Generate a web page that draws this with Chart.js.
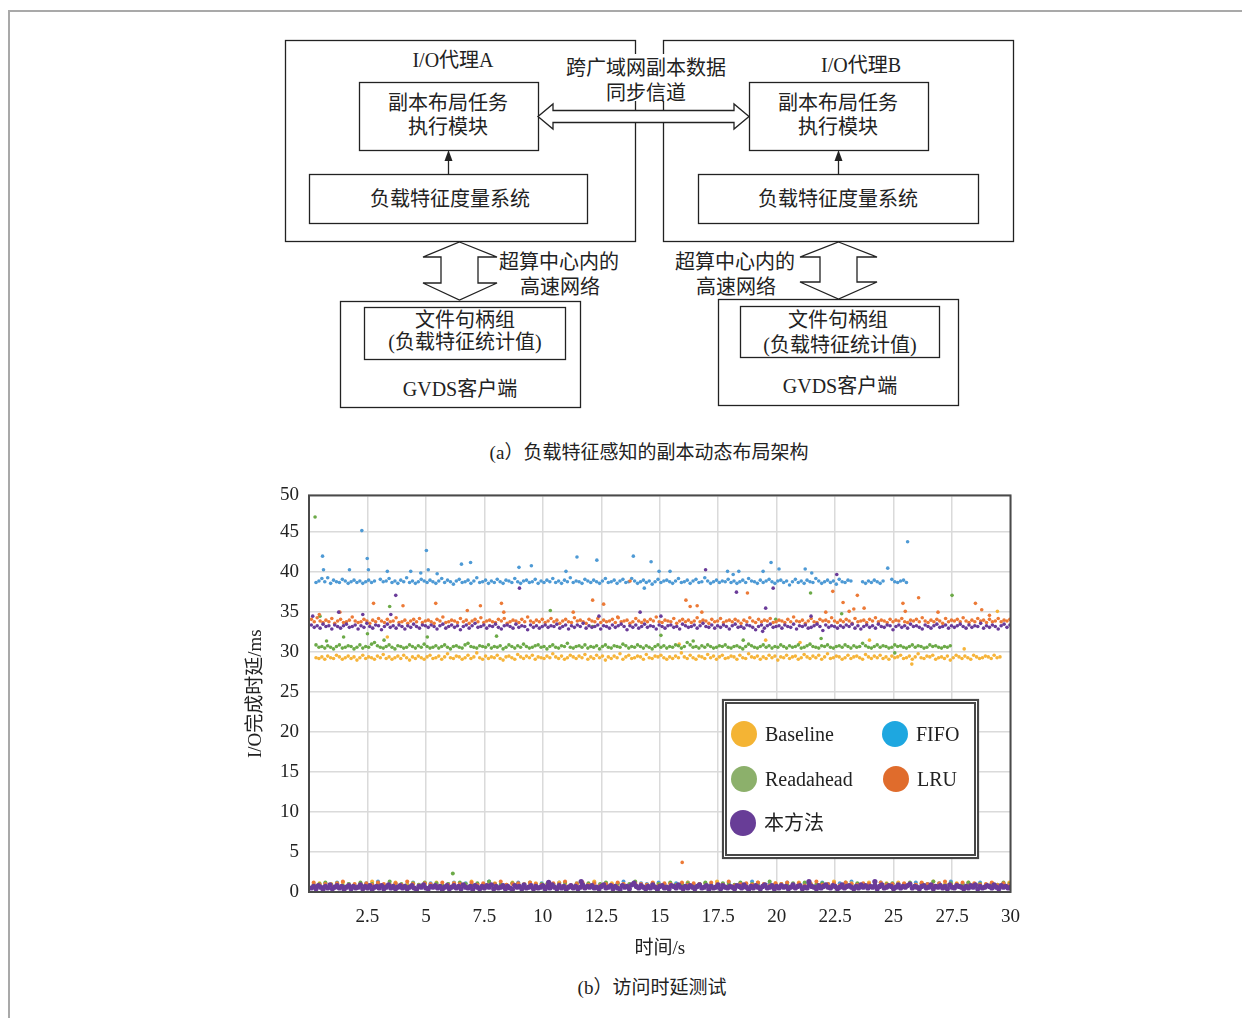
<!DOCTYPE html>
<html>
<head>
<meta charset="utf-8">
<script src="https://cdn.jsdelivr.net/npm/chart.js@4.4.1/dist/chart.umd.min.js"></script>
<style>
  html, body { margin: 0; padding: 0; background: #fff; }
  body { width: 1242px; height: 1018px; position: relative; overflow: hidden;
         font-family: "Liberation Serif", "Noto Sans CJK SC", serif; color: #222; }
  .page-edge { position: absolute; left: 8px; top: 10px; width: 1234px; height: 1008px;
               border-top: 2px solid #a9a9a9; border-left: 2px solid #a9a9a9; box-sizing: border-box; }
  #diagram { position: absolute; left: 0; top: 0; }
  #chartWrap { position: absolute; left: 240px; top: 474px; width: 794px; height: 486px; }
  .cap { position: absolute; font-size: 19px; white-space: nowrap; transform: translate(-50%, -50%); }
  #legend { position: absolute; left: 722px; top: 699px; width: 257px; height: 160px; box-sizing: border-box;
            border: 5px double #474747; background: #fff; box-shadow: 0 0 1px #888; }
  .li { position: absolute; display: flex; align-items: center; font-size: 20px; line-height: 26px; white-space: nowrap; }
  .li .dot { width: 26px; height: 26px; border-radius: 50%; margin-right: 8px; flex: none; }
</style>
</head>
<body>
<div class="page-edge"></div>

<svg id="diagram" width="1242" height="470" xmlns="http://www.w3.org/2000/svg"
     font-family="Liberation Serif, Noto Sans CJK SC, serif" font-size="20" fill="#222">
  <g fill="none" stroke="#222" stroke-width="1.3">
    <rect x="285.5" y="40.5" width="350" height="201"/>
    <rect x="663.5" y="40.5" width="350" height="201"/>
    <rect x="359.5" y="82.5" width="179" height="68"/>
    <rect x="749.5" y="82.5" width="179" height="68"/>
    <rect x="309.5" y="174.5" width="278" height="49"/>
    <rect x="698.5" y="174.5" width="280" height="49"/>
    <rect x="340.5" y="301.5" width="240" height="106"/>
    <rect x="364.5" y="307.5" width="201" height="52"/>
    <rect x="718.5" y="299.5" width="240" height="106"/>
    <rect x="740.5" y="306.5" width="199" height="51"/>
    <line x1="448.5" y1="174" x2="448.5" y2="159"/>
    <line x1="838.5" y1="174" x2="838.5" y2="159"/>
  </g>
  <polygon points="448.5,150 444.5,161 452.5,161" fill="#222"/>
  <polygon points="838.5,150 834.5,161 842.5,161" fill="#222"/>

  <!-- wide-area replica sync channel -->
  <rect x="563" y="54" width="166" height="47" fill="#fff"/>
  <polygon points="538,116.5 553,104 553,110.5 734,110.5 734,104 749,116.5 734,129 734,122.5 553,122.5 553,129"
           fill="#fff" stroke="#222" stroke-width="1.3"/>

  <!-- in-center high speed network arrows -->
  <polygon points="459.5,242 497,257 478,257 478,283 497,283 459.5,300 423,283 441,283 441,257 423,257"
           fill="#fff" stroke="#222" stroke-width="1.3"/>
  <polygon points="838.5,242 877,257 857,257 857,282 877,282 838.5,299 800,282 820,282 820,257 800,257"
           fill="#fff" stroke="#222" stroke-width="1.3"/>

  <g text-anchor="middle" dominant-baseline="central">
    <text x="453" y="60">I/O代理A</text>
    <text x="861" y="65">I/O代理B</text>
    <text x="646" y="68">跨广域网副本数据</text>
    <text x="646" y="93">同步信道</text>
    <text x="448" y="103">副本布局任务</text>
    <text x="448" y="127">执行模块</text>
    <text x="838" y="103">副本布局任务</text>
    <text x="838" y="127">执行模块</text>
    <text x="450" y="199">负载特征度量系统</text>
    <text x="838" y="199">负载特征度量系统</text>
    <text x="559" y="262">超算中心内的</text>
    <text x="560" y="287">高速网络</text>
    <text x="735" y="262">超算中心内的</text>
    <text x="736" y="287">高速网络</text>
    <text x="465" y="320">文件句柄组</text>
    <text x="465" y="342">(负载特征统计值)</text>
    <text x="460" y="389">GVDS客户端</text>
    <text x="838" y="320">文件句柄组</text>
    <text x="840" y="345">(负载特征统计值)</text>
    <text x="840" y="386">GVDS客户端</text>
  </g>
</svg>
<div class="cap" style="left:649px; top:450px;">(a）负载特征感知的副本动态布局架构</div>

<div id="chartWrap"><canvas id="c" width="794" height="486"></canvas></div>
<div id="legend"></div>
<div class="cap" style="left:652px; top:985px;">(b）访问时延测试</div>

<script>
// ---- series names and colours ----
const seriesNames   = ['Baseline', 'FIFO', 'Readahead', 'LRU', '本方法'];
const pointColors   = ['#F6B43A', '#4E9AD5', '#6CAA48', '#EC7A37', '#6A3B99'];
const legendColors  = ['#F4B434', '#1EA7E0', '#8CB06B', '#E06C2C', '#683D97'];

// ---- axis ticks ----
const xTickStep = 2.5;
const yTickValues = [0, 5, 10, 15, 20, 25, 30, 35, 40, 45, 49.6];
const yTickLabels = ['0', '5', '10', '15', '20', '25', '30', '35', '40', '45', '50'];

// ---- sampling of the steady-state latency traces (s) ----
const bandStep = 0.125;
const lowStep = 0.25;
const oursLowStep = 0.1;

// Baseline, steady latency (ms), from t = 0.3 s
const baselineBandStart = 0.3;
const baselineBand = [
  29.3,29.2,29.4,29.1,29.5,29.3,29.2,29.6,29.4,29.1,29.3,29.5,29.2,29.4,29.0,29.3,29.6,29.2,29.4,29.3,
  29.1,29.5,29.3,29.7,29.2,29.4,29.1,29.3,29.5,29.2,29.6,29.3,29.0,29.4,29.2,29.5,29.3,29.1,29.4,29.6,
  29.2,29.3,29.5,29.1,29.4,29.8,29.3,29.2,29.5,29.4,29.1,29.3,29.6,29.2,29.4,29.9,29.3,29.1,29.5,29.2,
  29.4,29.3,29.6,29.2,29.0,29.4,29.5,29.3,29.1,29.7,29.4,29.2,29.5,29.3,29.6,29.1,29.4,29.3,29.2,29.5,
  29.3,29.8,29.4,29.2,29.5,29.1,29.3,29.6,29.4,29.2,29.5,29.3,29.7,29.1,29.4,29.2,29.6,29.3,29.5,29.0,
  29.4,29.2,29.5,29.3,29.8,29.1,29.4,29.6,29.2,29.3,29.5,29.4,29.1,29.7,29.3,29.2,29.5,29.4,29.6,29.3,
  29.1,29.4,29.2,29.5,29.3,29.9,29.4,29.2,29.6,29.3,29.1,29.5,29.4,29.2,29.7,29.3,29.5,29.1,29.4,29.6,
  29.2,29.3,29.5,29.4,29.1,29.6,29.3,29.2,29.8,29.4,29.3,29.5,29.1,29.4,29.2,29.6,29.3,29.5,29.0,29.4,
  29.3,29.6,29.2,29.4,29.5,29.1,29.3,29.7,29.4,29.2,29.5,29.3,29.6,29.1,29.4,29.8,29.2,29.3,29.5,29.4,
  29.1,29.3,29.6,29.2,29.4,29.5,29.3,29.1,29.7,29.4,29.2,29.5,29.3,29.6,29.2,29.4,29.1,29.5,29.3,29.4,
  29.6,29.2,29.3,29.5,29.1,29.4,29.8,29.3,29.2,29.5,29.4,29.6,29.1,29.3,29.4,29.2,29.5,29.0,29.3,29.6,
  29.4,29.2,29.5,29.3,29.1,29.6,29.4,29.2,29.3,29.5,29.4,29.2,29.6,29.3,29.4
];
const baselineSpikes = [[3.35,31.9],[15.83,31.0],[19.53,31.5],[21.0,31.2],[23.97,31.5],[25.78,28.5],[28.02,30.4],[29.44,35.1]];

// FIFO, steady latency (ms), from t = 0.3 s (null = no request logged)
const fifoBandStart = 0.3;
const fifoBand = [
  38.7,38.9,39.2,38.8,39.3,38.6,39.0,38.8,38.7,39.1,38.9,38.6,38.8,39.0,38.7,38.9,38.6,38.8,39.0,38.7,
  38.9,null,39.1,38.8,38.9,39.2,38.7,38.9,38.6,39.0,38.8,39.3,38.7,38.9,38.6,38.8,39.1,38.9,38.7,39.0,
  38.8,38.6,38.9,39.2,38.7,39.0,38.8,38.5,38.9,39.1,38.7,38.8,39.0,38.6,38.9,39.3,38.7,38.8,39.0,38.6,
  38.9,38.7,39.1,38.8,38.6,39.0,38.9,38.7,39.2,38.8,38.6,38.9,39.0,38.7,38.8,39.1,38.6,38.9,38.7,39.0,
  38.8,39.2,38.7,38.9,38.6,39.0,38.8,39.3,38.7,38.9,38.8,38.6,39.1,38.9,38.7,39.0,38.8,38.6,38.9,39.2,
  38.7,38.8,39.0,38.6,38.9,39.1,38.7,38.8,39.2,38.9,38.6,38.8,39.0,38.7,38.9,38.5,38.8,39.1,38.7,38.9,
  39.0,38.8,38.6,38.9,39.2,38.7,38.8,39.0,38.6,38.9,39.1,38.7,38.8,39.3,38.9,38.6,38.8,39.0,38.7,38.9,
  38.8,39.1,38.7,38.9,38.6,38.8,39.0,38.7,39.2,38.9,38.8,38.6,39.0,38.7,38.9,39.1,38.8,38.6,38.9,39.0,
  38.7,38.9,38.4,38.8,39.1,38.7,38.9,38.6,39.0,38.8,38.7,39.2,38.9,38.6,38.8,39.0,38.7,38.9,38.5,39.1,
  38.8,38.7,39.0,38.9,null,null,null,38.8,38.6,38.9,38.7,39.0,38.8,38.6,38.9,null,null,39.1,38.8,38.7,
  38.9,39.0,38.7
];
const fifoSpikes = [[0.58,42.0],[0.62,40.3],[1.73,40.3],[2.26,45.2],[2.49,41.7],[2.54,40.3],[3.35,40.1],[4.35,40.1],
  [4.78,39.9],[5.02,42.7],[5.1,40.3],[5.48,39.8],[6.52,41.0],[6.91,41.2],[8.98,40.6],[9.51,40.8],[10.99,40.1],
  [11.46,41.9],[12.31,41.5],[13.87,42.0],[14.34,38.0],[14.63,41.3],[14.97,40.1],[15.44,40.1],[17.9,40.1],
  [18.14,39.7],[18.38,40.1],[19.42,40.1],[19.76,41.2],[20.1,40.4],[21.22,40.4],[21.5,39.9],[24.75,40.5],[25.6,43.8]];

// Readahead, steady latency (ms), from t = 0.3 s
const readaheadBandStart = 0.3;
const readaheadBand = [
  30.9,30.6,30.7,30.5,30.8,30.6,30.4,30.7,30.9,30.5,30.6,30.8,30.7,30.4,30.6,30.9,30.5,30.7,30.6,31.0,
  31.2,30.8,30.6,30.5,30.7,30.9,30.6,30.4,30.8,30.7,30.5,30.6,30.9,30.7,30.5,30.8,30.6,31.0,30.7,30.5,
  30.6,30.8,30.5,30.7,30.9,30.6,30.4,30.7,30.8,30.6,30.5,30.9,31.1,30.7,30.6,30.5,30.8,30.7,30.6,30.9,
  30.5,30.7,30.6,30.8,30.4,30.6,30.9,30.7,30.5,30.8,30.6,31.0,30.7,30.5,30.6,30.8,30.9,30.6,30.7,30.4,
  30.7,30.9,30.6,30.5,30.8,30.7,31.1,30.6,30.5,30.7,30.8,30.6,30.9,30.5,30.7,30.6,30.8,30.4,30.7,30.9,
  30.6,30.5,30.8,30.7,30.6,31.0,30.8,30.5,30.7,30.6,30.9,30.7,30.5,30.8,30.6,30.4,30.7,30.9,30.6,30.8,
  30.5,30.7,30.6,30.9,30.8,30.5,30.7,31.2,30.9,30.6,30.7,30.5,30.8,30.6,30.9,30.7,30.5,30.6,30.8,30.7,
  30.9,30.6,30.5,30.7,30.8,30.6,30.4,30.7,31.0,30.8,30.6,30.5,30.7,30.9,30.6,30.8,30.5,30.7,30.6,30.9,
  30.7,30.5,30.8,30.6,30.7,30.9,30.5,30.6,30.8,31.0,30.7,30.6,30.5,30.8,30.7,30.9,30.6,30.5,30.7,30.8,
  30.6,30.9,30.7,30.5,30.8,30.6,30.7,31.1,30.8,30.6,30.5,30.7,30.9,30.6,30.8,30.7,30.5,30.6,30.9,30.7,
  30.8,30.6,30.5,30.7,30.9,30.6,30.8,30.7,30.5,30.6,30.9,30.7,30.8,30.6,30.5,30.7,30.6,30.8
];
const readaheadSpikes = [[0.26,46.9],[0.47,34.5],[0.75,31.4],[1.48,31.9],[2.5,32.3],[3.21,31.5],[3.45,35.7],[5.06,31.9],
  [6.15,2.3],[8.02,32.0],[10.32,35.2],[12.13,33.2],[15.05,32.1],[16.43,31.4],[18.57,31.5],[19.96,34.1],[21.45,37.4],
  [21.9,31.7],[22.78,34.8],[25.05,29.9],[27.5,37.1]];

// LRU, steady latency (ms), from t = 0.1 s
const lruBandStart = 0.1;
const lruBand = [
  34.1,33.8,34.3,33.9,33.7,34.0,33.8,34.2,33.6,33.9,34.1,33.7,33.8,34.0,34.4,33.9,33.7,33.8,34.1,33.9,
  33.6,34.0,33.8,34.2,33.9,33.7,34.1,33.8,33.9,34.3,33.7,33.8,34.0,33.6,33.9,34.1,33.8,34.2,33.7,33.9,
  34.0,33.8,33.6,34.1,33.9,34.4,33.7,33.8,34.0,33.9,33.7,34.2,33.8,34.0,33.6,33.9,34.1,33.8,34.3,33.7,
  33.9,34.0,33.8,33.7,34.1,33.9,34.2,33.6,33.8,34.0,33.9,33.7,34.1,33.8,34.4,33.9,33.7,34.0,33.8,34.1,
  33.7,33.9,34.2,33.8,34.0,33.6,33.9,34.1,33.8,33.7,34.3,33.9,34.0,33.8,33.6,34.1,33.9,33.8,34.2,33.7,
  34.0,33.8,33.9,34.1,33.7,34.3,33.8,33.9,34.0,33.6,33.8,34.2,33.9,33.7,34.0,33.8,34.1,33.9,34.4,33.8,
  33.7,34.0,33.9,33.8,34.2,33.6,33.9,34.1,33.8,34.0,33.7,33.9,34.3,33.8,34.0,33.9,33.6,34.1,33.8,33.9,
  34.2,33.7,33.9,34.0,33.8,34.1,33.9,33.6,34.0,33.8,34.3,33.9,33.7,34.1,33.8,34.0,33.9,34.2,33.7,33.8,
  34.0,33.9,33.7,34.1,33.8,34.4,33.9,33.8,34.0,33.6,33.9,34.2,33.8,33.7,34.1,33.9,34.0,33.8,34.3,33.9,
  33.7,34.0,33.8,34.1,33.9,33.6,34.2,33.8,33.9,34.0,33.7,34.1,33.9,34.3,33.8,34.0,33.9,33.7,34.1,33.8,
  34.0,33.9,34.2,33.8,33.7,34.0,33.9,34.1,33.8,34.3,33.9,33.7,34.0,33.8,34.1,33.9,33.6,34.2,33.8,34.0,
  33.9,34.1,33.8,34.3,33.9,33.7,34.0,33.8,34.2,33.9,34.0,33.7,34.1,33.8,33.9,34.2,33.8,34.0,33.9,34.1
];
const lruSpikes = [[0.44,34.7],[1.32,35.0],[2.76,36.1],[4.02,35.8],[5.42,36.1],[6.77,35.2],[7.33,35.8],[8.23,36.1],
  [8.33,35.0],[11.3,35.0],[12.13,36.5],[12.6,36.0],[13.2,34.4],[13.73,38.9],[15.96,3.7],[16.12,36.5],[16.3,35.7],
  [16.6,35.8],[16.8,35.0],[18.75,37.4],[22.1,35.0],[22.4,37.6],[22.84,36.2],[23.1,35.1],[23.3,35.4],[23.45,37.1],
  [23.74,35.5],[25.4,36.1],[25.5,35.1],[26.07,36.8],[26.9,35.0],[28.5,36.1],[28.77,35.3],[29.1,34.6]];

// Proposed method, steady latency (ms), from t = 0.1 s
const oursBandStart = 0.1;
const oursBand = [
  33.4,33.1,33.3,33.0,33.5,33.2,33.3,32.9,33.4,33.2,33.0,33.3,33.5,33.1,33.2,33.4,32.9,33.3,33.1,33.6,
  33.2,33.0,33.4,33.3,32.8,33.2,33.5,33.1,33.3,33.0,33.4,33.2,32.9,33.3,33.1,33.5,33.2,33.0,33.4,33.3,
  33.1,33.4,33.2,32.9,33.3,33.5,33.0,33.2,33.4,33.1,33.3,32.8,33.2,33.4,33.0,33.3,33.6,33.1,33.2,33.4,
  33.0,33.3,33.2,33.5,33.1,32.9,33.3,33.4,33.2,33.0,33.5,33.1,33.3,33.2,32.8,33.4,33.1,33.3,33.0,33.2,
  33.4,33.1,33.3,33.2,33.5,33.0,33.2,33.4,32.9,33.3,33.1,33.4,33.2,33.6,33.0,33.3,33.1,33.2,33.4,32.9,
  33.3,33.2,33.0,33.4,33.1,33.3,33.5,33.2,32.8,33.3,33.1,33.4,33.0,33.2,33.5,33.1,33.3,33.2,32.9,33.4,
  33.2,33.0,33.3,33.4,33.1,33.2,32.9,33.5,33.3,33.1,33.2,33.4,33.0,33.3,33.6,33.2,33.1,33.4,33.0,33.3,
  33.1,33.4,33.2,32.9,33.3,33.5,33.1,33.2,33.0,33.4,33.3,33.1,32.8,33.2,33.4,33.0,33.3,33.5,33.1,33.2,
  33.3,33.0,33.4,33.2,33.1,33.5,32.9,33.3,33.2,33.4,33.0,33.1,33.3,33.5,33.2,32.7,33.4,33.1,33.3,33.2,
  33.0,33.3,33.1,33.4,33.2,33.5,33.0,33.3,32.9,33.2,33.4,33.1,33.3,33.0,33.5,33.2,33.1,33.4,33.3,32.8,
  33.2,33.4,33.1,33.3,33.0,33.5,33.2,33.3,33.1,32.9,33.4,33.2,33.0,33.3,33.5,33.1,33.2,33.4,33.0,33.3,
  33.1,33.3,33.5,33.2,33.0,33.4,33.1,33.3,33.2,33.6,33.0,33.3,33.1,33.4,33.2,32.9,33.3,33.5,33.1,33.4
];
const oursSpikes = [[0.16,34.5],[1.27,35.0],[2.3,34.7],[3.5,34.7],[3.71,37.1],[9.0,38.0],[10.25,1.2],[11.64,1.3],
  [12.4,34.5],[14.16,35.0],[15.05,34.5],[16.96,40.3],[18.28,37.5],[19.4,32.6],[19.53,35.5],[19.85,38.0],[21.38,1.3],
  [21.47,34.5],[22.57,39.7],[24.2,1.3]];

// Low-latency (cached) requests, ms
const lowStart = 0.2;
const baselineLow = [
  0.9,1.1,0.7,1.0,0.8,1.2,0.9,0.6,1.1,0.8,1.3,0.9,0.7,1.0,1.2,0.8,0.9,1.1,0.7,1.0,
  0.8,1.2,0.9,0.7,1.1,1.0,0.8,1.3,0.9,0.6,1.0,1.1,0.8,0.9,1.2,0.7,1.0,0.9,1.1,0.8,
  1.0,0.7,1.2,0.9,0.8,1.1,0.6,1.0,1.3,0.8,0.9,1.1,0.7,1.0,0.8,1.2,0.9,0.7,1.1,1.0,
  0.9,1.1,0.8,1.0,1.2,0.7,0.9,1.1,0.8,1.3,1.0,0.9,0.7,1.1,0.8,1.0,1.2,0.9,0.8,1.1,
  0.7,1.0,0.9,1.2,0.8,1.1,1.0,0.7,0.9,1.3,0.8,1.0,1.1,0.9,0.7,1.2,1.0,0.8,1.1,0.9,
  1.2,0.8,1.0,0.9,1.1,0.7,1.3,0.9,1.0,0.8,1.1,0.9,1.2,0.8,1.0,0.7,1.1,0.9,1.0,1.2
];
const fifoLow = [
  1.0,0.8,1.1,0.9,1.2,0.7,1.0,0.9,0.8,1.1,1.0,1.3,0.8,0.9,1.1,0.7,1.0,1.2,0.9,0.8,
  1.1,0.9,0.7,1.0,1.2,0.8,1.1,0.9,1.0,0.7,1.3,0.9,1.0,0.8,1.1,1.2,0.9,0.7,1.0,1.1,
  0.8,1.0,1.2,0.9,0.7,1.1,1.0,0.8,1.2,0.9,1.1,0.7,1.0,1.3,0.9,0.8,1.1,1.0,0.9,1.2,
  1.0,0.7,1.1,0.9,1.2,0.8,1.0,1.1,0.9,0.7,1.0,1.2,0.8,1.1,0.9,1.3,1.0,0.8,1.1,0.9,
  0.9,1.2,0.8,1.0,1.1,0.9,0.7,1.2,1.0,0.8,1.1,0.9,1.3,1.0,0.8,1.1,0.9,1.2,0.7,1.0,
  1.1,0.8,1.0,1.2,0.9,1.0,0.8,1.1,0.9,1.3,0.7,1.0,1.1,0.9,1.2,0.8,1.0,0.9,1.1,0.8
];
const readaheadLow = [
  0.8,1.0,1.2,0.9,1.1,0.8,1.0,0.7,1.2,0.9,1.0,1.1,0.8,1.3,0.9,1.0,0.7,1.1,0.9,1.2,
  0.9,1.1,0.8,1.0,0.7,1.2,1.0,0.9,1.1,0.8,1.3,1.0,0.9,0.7,1.1,1.0,0.8,1.2,0.9,1.0,
  1.1,0.9,1.0,1.2,0.8,1.0,0.9,1.1,0.7,1.0,1.2,0.8,1.1,0.9,1.0,1.3,0.8,0.9,1.1,1.0,
  0.8,1.2,0.9,1.0,1.1,0.7,1.0,1.2,0.9,0.8,1.1,1.0,0.9,1.2,0.7,1.0,1.1,0.9,1.3,0.8,
  1.0,0.9,1.1,0.8,1.2,1.0,0.9,1.1,0.8,1.0,0.7,1.2,0.9,1.1,1.0,0.8,1.2,0.9,1.0,1.1,
  0.9,1.0,1.2,0.8,1.1,0.9,1.3,1.0,0.8,1.1,0.9,1.0,1.2,0.7,1.0,0.9,1.1,0.8,1.2,1.0
];
const lruLow = [
  1.2,0.9,1.0,0.8,1.1,1.3,0.9,1.0,0.7,1.1,0.9,1.2,1.0,0.8,1.1,0.9,1.3,1.0,0.8,1.1,
  1.0,0.8,1.2,0.9,1.1,1.0,0.7,1.2,0.9,1.1,0.8,1.0,1.3,0.9,1.0,1.1,0.8,1.2,1.0,0.9,
  0.9,1.1,1.0,1.3,0.8,1.0,1.2,0.9,1.1,0.8,1.0,0.9,1.2,1.0,0.7,1.1,1.0,0.9,1.2,0.8,
  1.1,1.0,0.8,1.2,0.9,1.1,1.0,0.7,1.2,1.0,0.9,1.3,0.8,1.0,1.1,0.9,1.2,1.0,0.8,1.1,
  1.0,1.2,0.9,1.1,0.8,1.0,1.3,0.9,1.0,1.1,0.8,1.2,1.0,0.9,1.1,1.0,0.7,1.2,0.9,1.0,
  0.8,1.1,1.0,0.9,1.2,1.0,0.8,1.1,1.3,0.9,1.0,1.2,0.8,1.1,0.9,1.0,1.2,0.8,1.1,0.9
];
const oursLowStart = 0.1;
const oursLow = [
  0.5,0.7,0.4,0.8,0.6,0.3,0.7,0.5,0.9,0.4,0.6,0.8,0.5,0.7,0.3,0.6,0.8,0.4,0.7,0.5,
  0.6,0.9,0.4,0.7,0.5,0.8,0.3,0.6,0.7,0.5,0.8,0.4,0.6,0.9,0.5,0.7,0.4,0.6,0.8,0.5,
  0.7,0.4,0.6,0.8,0.5,0.3,0.7,0.6,0.9,0.5,0.4,0.7,0.6,0.8,0.5,0.7,0.3,0.6,0.8,0.4,
  0.6,0.8,0.5,0.7,0.4,0.9,0.6,0.5,0.7,0.3,0.8,0.6,0.4,0.7,0.5,0.8,0.6,0.9,0.4,0.7,
  0.5,0.6,0.8,0.4,0.7,0.5,0.3,0.8,0.6,0.7,0.4,0.9,0.5,0.6,0.8,0.4,0.7,0.5,0.6,0.8,
  0.4,0.7,0.5,0.9,0.6,0.4,0.8,0.5,0.7,0.3,0.6,0.8,0.5,0.7,0.4,0.6,0.9,0.5,0.7,0.6,
  0.8,0.5,0.6,0.4,0.7,0.9,0.5,0.6,0.8,0.4,0.7,0.5,0.3,0.8,0.6,0.7,0.4,0.9,1.1,0.7,
  0.5,0.8,0.6,0.4,0.7,0.5,0.9,0.6,0.3,0.7,0.8,0.5,0.6,0.4,0.8,0.7,0.5,0.9,0.6,0.4,
  0.7,0.5,0.8,0.6,0.4,0.7,0.9,0.5,0.6,0.8,0.3,0.7,0.5,0.6,0.9,0.4,0.8,0.6,0.5,0.7,
  0.6,0.4,0.8,0.7,0.5,0.9,0.6,0.3,0.7,0.5,0.8,0.6,0.4,0.7,0.9,0.5,0.6,0.8,0.4,0.7,
  0.5,0.8,0.6,0.7,0.4,0.6,0.9,0.5,0.7,0.8,0.4,0.6,0.5,0.9,0.7,0.6,0.4,0.8,0.5,0.7,
  0.9,0.6,0.5,0.8,0.7,0.4,0.6,0.9,0.5,0.7,0.8,0.6,0.4,0.7,0.5,0.9,0.6,0.8,0.5,0.7,
  0.6,0.8,0.4,0.7,0.9,0.5,0.6,0.8,0.7,0.4,0.6,0.9,0.5,0.7,0.6,0.8,1.0,0.5,0.7,0.6,
  0.4,0.7,0.8,0.5,0.6,0.9,0.4,0.7,0.6,0.8,0.5,0.7,0.4,0.9,0.6,0.5,0.8,0.7,0.6,0.4,
  0.7,0.5,0.8,0.6,0.9,0.4,0.7,0.5,0.6,0.8,0.7,0.5,0.9,0.6,0.4,0.8,0.6,0.7,0.5,0.6
];

// ---- build the point lists ----
function sampled(start, step, values) {
  const out = [];
  values.forEach((v, i) => { if (v !== null) out.push({ x: +(start + i * step).toFixed(3), y: v }); });
  return out;
}
function pairs(list) { return list.map(([x, y]) => ({ x, y })); }

const seriesPoints = [
  [...sampled(lowStart, lowStep, baselineLow), ...sampled(baselineBandStart, bandStep, baselineBand), ...pairs(baselineSpikes)],
  [...sampled(lowStart, lowStep, fifoLow), ...sampled(fifoBandStart, bandStep, fifoBand), ...pairs(fifoSpikes)],
  [...sampled(lowStart, lowStep, readaheadLow), ...sampled(readaheadBandStart, bandStep, readaheadBand), ...pairs(readaheadSpikes)],
  [...sampled(lowStart, lowStep, lruLow), ...sampled(lruBandStart, bandStep, lruBand), ...pairs(lruSpikes)],
  [...sampled(oursLowStart, oursLowStep, oursLow), ...sampled(oursBandStart, bandStep, oursBand), ...pairs(oursSpikes)]
];
// drawing order: the proposed method on top, then LRU, Readahead, Baseline, FIFO
const drawOrder = [3, 4, 2, 1, 0];

const FONT = '"Liberation Serif", "Noto Sans CJK SC", serif';

const datasets = seriesNames.map((name, i) => ({
  label: name,
  data: seriesPoints[i],
  order: drawOrder[i],
  backgroundColor: pointColors[i],
  borderWidth: 0,
  pointRadius: (ctx) => (ctx.raw && ctx.raw.y < 3 ? (i === 4 ? 2.6 : 2.0) : 1.8),
  pointHoverRadius: 0
}));

const framePlugin = {
  id: 'plotFrame',
  afterDraw(chart) {
    const { ctx, chartArea: a } = chart;
    ctx.save();
    ctx.strokeStyle = '#4a4a4a';
    ctx.lineWidth = 2;
    ctx.strokeRect(a.left, a.top, a.right - a.left, a.bottom - a.top);
    ctx.restore();
  }
};

const chart = new Chart(document.getElementById('c'), {
  type: 'scatter',
  data: { datasets },
  options: {
    responsive: false,
    animation: false,
    events: [],
    layout: { padding: { top: 14, right: 9, left: 0, bottom: 0 } },
    plugins: { legend: { display: false }, tooltip: { enabled: false } },
    scales: {
      x: {
        type: 'linear', min: 0, max: 30,
        afterFit(s) { s.height = 68; },
        border: { display: false },
        grid: { color: '#dadada', lineWidth: 1.5, drawTicks: false },
        ticks: {
          stepSize: xTickStep, autoSkip: false, maxRotation: 0, padding: 14, color: '#222',
          font: { family: FONT, size: 19 },
          callback: (v) => (v === 0 ? '' : String(v))
        },
        title: { display: true, text: '时间/s', color: '#222', font: { family: FONT, size: 19 }, padding: { top: 0, bottom: 0 } }
      },
      y: {
        type: 'linear', min: 0, max: yTickValues[yTickValues.length - 1],
        afterFit(s) { s.width = 69; },
        afterBuildTicks(s) { s.ticks = yTickValues.map((v) => ({ value: v })); },
        border: { display: false },
        grid: { color: '#dadada', lineWidth: 1.5, drawTicks: false },
        ticks: {
          padding: 10, color: '#222', font: { family: FONT, size: 19 },
          callback: (v) => yTickLabels[yTickValues.indexOf(v)]
        },
        title: { display: true, text: 'I/O完成时延/ms', color: '#222', font: { family: FONT, size: 19 }, padding: { top: 5, bottom: 0 } }
      }
    }
  },
  plugins: [framePlugin]
});

// ---- legend box (two columns, large round swatches) ----
const legendSlots = [[4, 17], [155, 17], [4, 62], [156, 62], [3, 106]];
const legendBox = document.getElementById('legend');
chart.data.datasets.forEach((ds, i) => {
  const item = document.createElement('div');
  item.className = 'li';
  item.style.left = legendSlots[i][0] + 'px';
  item.style.top = legendSlots[i][1] + 'px';
  const dot = document.createElement('span');
  dot.className = 'dot';
  dot.style.background = legendColors[i];
  const txt = document.createElement('span');
  txt.textContent = ds.label;
  item.appendChild(dot);
  item.appendChild(txt);
  legendBox.appendChild(item);
});
</script>
</body>
</html>
